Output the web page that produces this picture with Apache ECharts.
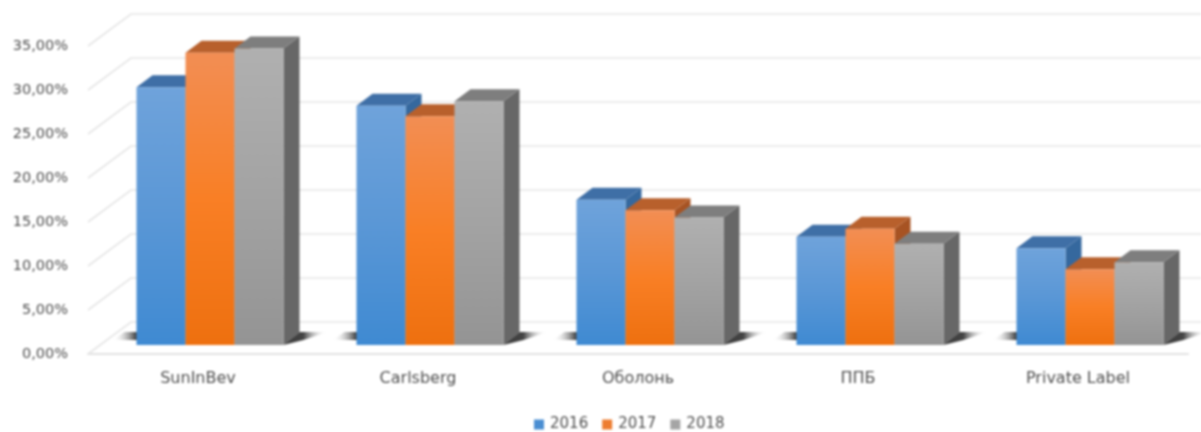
<!DOCTYPE html>
<html>
<head>
<meta charset="utf-8">
<style>
html,body{margin:0;padding:0;background:#fff;overflow:hidden}
#c{width:1201px;height:432px;filter:blur(0.8px)}
</style>
<script src="https://cdn.jsdelivr.net/npm/echarts@6/dist/echarts.min.js"></script>
</head>
<body>
<div id="c"></div>
<script>
const categories = ['SunInBev','Carlsberg','Оболонь','ППБ','Private Label'];
const values2016 = [29.3,27.2,16.5,12.3,11.0];
const values2017 = [33.2,26.0,15.3,13.2,8.6];
const values2018 = [33.7,27.7,14.5,11.5,9.4];
const yTicks = [0,5,10,15,20,25,30,35];

const fontFamily = '"DejaVu Sans", sans-serif';
const textColor = '#4f4f4f';
const wallDX = 43, wallDY = -32;      // depth of the chart box
const planeDX = 12, planeDY = -9;     // where the bars stand in the box
const barW = 49, barDX = 16, barDY = -12;

function grad(stops){
  return {type:'linear',x:0,y:0,x2:0,y2:1,colorStops:stops.map((c,i)=>({offset:i/(stops.length-1),color:c}))};
}
function hgrad(stops){
  return {type:'linear',x:0,y:0,x2:1,y2:0,colorStops:stops.map(s=>({offset:s[0],color:s[1]}))};
}

function barSeries(name, values, idx, legendColor, front, top, side){
  return {
    type:'custom', name, z:5, silent:true, clip:false,
    itemStyle:{color:legendColor},
    data: values.map((v,i)=>[i,v]),
    renderItem(params, api){
      const p = api.coord([api.value(0), api.value(1)]);
      const b = api.coord([api.value(0), 0]);
      const x0 = p[0] + planeDX - barW*1.5 + barW*idx;
      const x1 = x0 + barW;
      const yt = p[1] + planeDY, yb = b[1] + planeDY;
      return {type:'group',children:[
        {type:'polygon',shape:{points:[[x1,yt],[x1+barDX,yt+barDY],[x1+barDX,yb+barDY],[x1,yb]]},style:{fill:side}},
        {type:'polygon',shape:{points:[[x0,yt],[x0+barDX,yt+barDY],[x1+barDX,yt+barDY],[x1,yt]]},style:{fill:top}},
        {type:'rect',shape:{x:x0,y:yt,width:barW,height:yb-yt},style:{fill:grad(front)}}
      ]};
    }
  };
}

const option = {
  animation:false,
  backgroundColor:'#ffffff',
  tooltip:{show:false},
  grid:{left:88,right:13,top:46,bottom:78},
  legend:{
    left:529, top:412, icon:'rect', itemWidth:10, itemHeight:10, itemGap:14,
    data:['2016','2017','2018'], selectedMode:false,
    textStyle:{fontFamily,fontSize:15,color:textColor,padding:[0,0,0,1]}
  },
  xAxis:{
    type:'category', data:categories,
    axisTick:{show:false},
    axisLine:{lineStyle:{color:'#e2e2e2',width:2}},
    axisLabel:{fontFamily,fontSize:16,color:textColor,margin:17}
  },
  yAxis:{
    type:'value', min:0, max:35, interval:5,
    axisLine:{show:false}, axisTick:{show:false}, splitLine:{show:false},
    axisLabel:{fontFamily,fontSize:14.5,color:textColor,margin:20,
      formatter:v=>v.toFixed(2).replace('.',',')+'%'}
  },
  series:[
    { // back wall and side lines
      type:'custom', silent:true, clip:false, z:1,
      data:yTicks.map(t=>[0,t]),
      renderItem(params, api){
        const p = api.coord([0, api.value(1)]);
        const left = params.coordSys.x, y = p[1];
        return {type:'polyline',
          shape:{points:[[left,y],[left+wallDX,y+wallDY],[1201,y+wallDY]]},
          style:{stroke:'#e6e6e6',lineWidth:1.6,fill:null}};
      }
    },
    { // floor shadows beside each group
      type:'custom', silent:true, clip:false, z:2,
      data:categories.map((c,i)=>[i,0]),
      renderItem(params, api){
        const p = api.coord([api.value(0),0]);
        const l = p[0]+planeDX-barW*1.5, r = l+barW*3;
        const yb = p[1]+planeDY;
        return {type:'group',children:[
          {type:'polygon',shape:{points:[[l+3,yb-5],[l-24,yb-5],[l-12,yb-13],[l+3,yb-13]]},
           style:{fill:hgrad([[0,'rgba(255,255,255,0)'],[0.85,'#4a4a4a'],[1,'#404040']])}},
          {type:'polygon',shape:{points:[[r,yb],[r+barDX,yb-13],[r+44,yb-13],[r+20,yb-5]]},
           style:{fill:hgrad([[0,'#3a3a3a'],[0.45,'#444444'],[1,'rgba(255,255,255,0)']])}}
        ]};
      }
    },
    barSeries('2016',values2016,0,'#4a8ed2',['#6fa3db','#5a97d6','#3f8ad2'],'#3f6fa6','#35689e'),
    barSeries('2017',values2017,1,'#ed7d31',['#f28e54','#f97f25','#ee700f'],'#b8602c','#a75323'),
    barSeries('2018',values2018,2,'#a5a5a5',['#b0b0b0','#a3a3a3','#949494'],'#7e7e7e','#676767')
  ]
};
const chart = echarts.init(document.getElementById('c'),null,{renderer:'canvas',width:1201,height:432});
chart.setOption(option);
</script>
</body>
</html>
